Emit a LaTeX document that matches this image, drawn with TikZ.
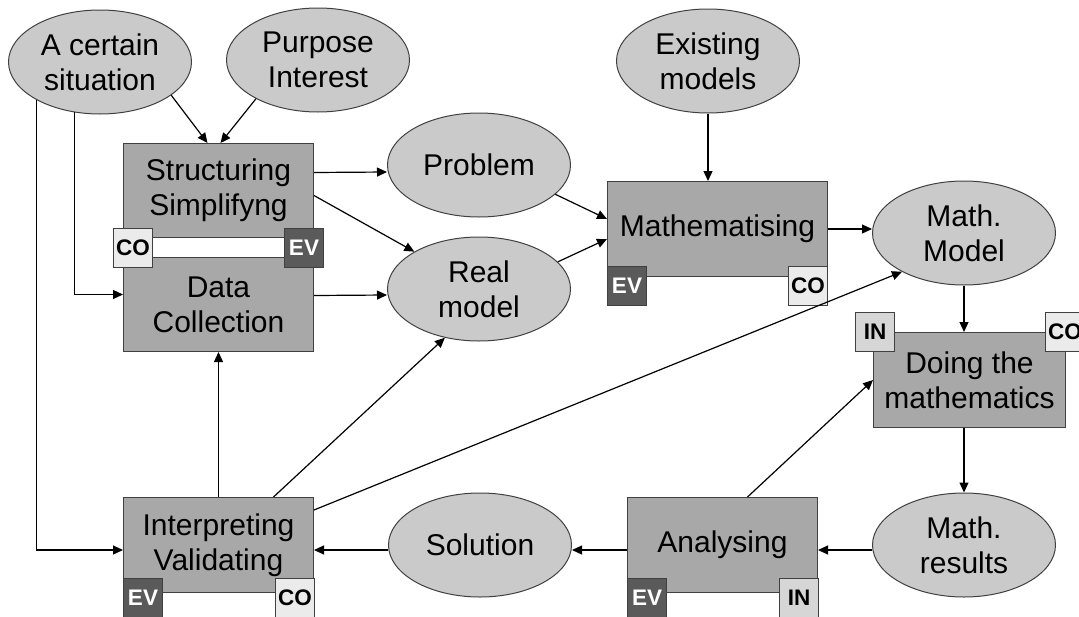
\documentclass[tikz,border=0pt]{standalone}
\usepackage{fontspec}
\setmainfont{Liberation Sans}
\usetikzlibrary{shapes.geometric,arrows.meta,calc}
\definecolor{edge}{HTML}{404040}
\definecolor{ellfill}{HTML}{CACACA}
\definecolor{boxfill}{HTML}{A8A8A8}
\definecolor{tagdarkfill}{HTML}{5A5A5A}
\definecolor{taglightfill}{HTML}{EBEBEB}
\definecolor{tagmidfill}{HTML}{D6D6D6}
\begin{document}
\begin{tikzpicture}[x=1pt,y=-1pt,
  ell/.style={ellipse,draw=edge,fill=ellfill,line width=1pt,minimum width=183pt,minimum height=104pt,inner sep=0pt,align=center,font=\fontsize{30}{35}\selectfont},
  stage/.style={rectangle,draw=edge,fill=boxfill,line width=1pt,inner sep=0pt,anchor=north west,align=center,font=\fontsize{30}{35}\selectfont},
  tag/.style={rectangle,draw=edge,line width=1pt,anchor=north west,minimum width=39pt,minimum height=39pt,inner sep=0pt,font=\fontsize{22.5}{24}\selectfont\bfseries},
  tagdark/.style={tag,fill=tagdarkfill,text=white},
  taglight/.style={tag,fill=taglightfill,text=black},
  tagmid/.style={tag,fill=tagmidfill,text=black},
  arr/.style={draw=black,line width=1.2pt,-{Triangle[length=10pt,width=9pt]}}
]
\useasboundingbox (0,0) rectangle (1079,616);

% ellipses
\node[ell] (sit)   at (100,62)  {A certain\\situation};
\node[ell] (purp)  at (318,60)  {Purpose\\Interest};
\node[ell] (exist) at (708,61)  {Existing\\models};
\node[ell] (prob)  at (479,165) {Problem};
\node[ell] (real)  at (479,289) {Real\\model};
\node[ell] (mmod)  at (964,233) {Math.\\Model};
\node[ell] (mres)  at (964,545) {Math.\\results};
\node[ell] (sol)   at (480,545) {Solution};

% boxes
\node[stage,minimum width=190pt,minimum height=94pt] (struct) at (123,143) {Structuring\\Simplifyng};
\node[stage,minimum width=190pt,minimum height=94pt] (data)   at (123,257) {Data\\Collection};
\node[stage,minimum width=220pt,minimum height=95pt] (math)   at (607,181) {Mathematising};
\node[stage,minimum width=192pt,minimum height=95pt] (doing)  at (873,332) {Doing the\\mathematics};
\node[stage,minimum width=190pt,minimum height=95pt] (anal)   at (627,497) {Analysing};
\node[stage,minimum width=190pt,minimum height=95pt] (interp) at (123,497) {Interpreting\\Validating};

% tags
\node[taglight] (tco1) at (113,228) {CO};
\node[tagdark]  (tev1) at (284,228) {EV};
\node[tagdark]  (tev2) at (607,266) {EV};
\node[taglight] (tco2) at (788,266) {CO};
\node[tagmid]   (tin1) at (855,312) {IN};
\node[taglight] (tco3) at (1045,312) {CO};
\node[tagdark]  (tev3) at (627,578) {EV};
\node[tagmid]   (tin2) at (779,578) {IN};
\node[tagdark]  (tev4) at (123,578) {EV};
\node[taglight] (tco4) at (275,578) {CO};

% connectors
\draw[arr] (sit.-25) -- ($(struct.north)+(-11,0)$);
\draw[arr] (purp.-148) -- ($(struct.north)+(2,0)$);
\draw[arr] (sit.211) |- ($(interp.west)+(0,5)$);
\draw[arr] (sit.243) |- ($(data.west)+(0,-10)$);
\draw[arr] ($(struct.east)+(0,-18)$) -- ($(prob.west)+(0,7)$);
\draw[arr] ($(struct.east)+(0,5)$) -- (real.150);
\draw[arr] ($(data.east)+(0,-9)$) -- ($(real.west)+(0,6)$);
\draw[arr] (prob.-21) -- ($(math.west)+(0,-10)$);
\draw[arr] (real.19) -- ($(math.west)+(0,10)$);
\draw[arr] (exist.south) -- (math.north -| exist.south);
\draw[arr] (math.east) -- (mmod.west |- math.east);
\draw[arr] (mmod.south) -- (doing.north -| mmod.south);
\draw[arr] (doing.south -| mres.north) -- (mres.north);
\draw[arr] ($(mres.west)+(0,5)$) -- ($(anal.east)+(0,5)$);
\draw[arr] ($(anal.west)+(0,5)$) -- ($(sol.east)+(0,5)$);
\draw[arr] ($(sol.west)+(0,5)$) -- ($(interp.east)+(0,5)$);
\draw[arr] (interp.north) -- (data.south);
\draw[arr] ($(interp.north)+(55,0)$) -- (real.-125);
\draw[arr] ($(interp.east)+(0,-35)$) -- (mmod.212);
\draw[arr] ($(anal.north)+(25,0)$) -- (doing.west);
\end{tikzpicture}
\end{document}
